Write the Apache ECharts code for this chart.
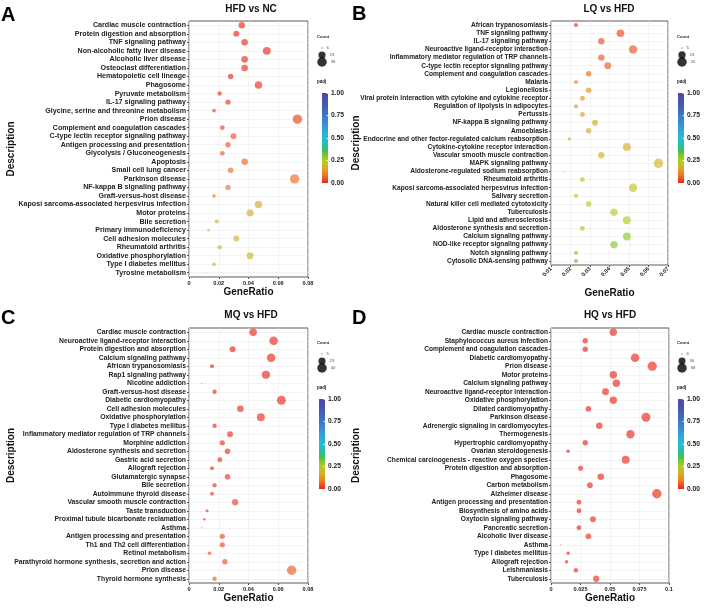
<!DOCTYPE html>
<html>
<head>
<meta charset="utf-8">
<script src="https://cdn.jsdelivr.net/npm/echarts@6/dist/echarts.min.js"></script>
<style>
  html, body { margin: 0; padding: 0; background: #fff; }
  #chart { width: 709px; height: 608px; }
</style>
</head>
<body>
<div id="chart"></div>
<script>
"use strict";

/* ---------- data ---------- */
const termsA = ["Cardiac muscle contraction", "Protein digestion and absorption", "TNF signaling pathway",
  "Non-alcoholic fatty liver disease", "Alcoholic liver disease", "Osteoclast differentiation",
  "Hematopoietic cell lineage", "Phagosome", "Pyruvate metabolism", "IL-17 signaling pathway",
  "Glycine, serine and threonine metabolism", "Prion disease", "Complement and coagulation cascades",
  "C-type lectin receptor signaling pathway", "Antigen processing and presentation",
  "Glycolysis / Gluconeogenesis", "Apoptosis", "Small cell lung cancer", "Parkinson disease",
  "NF-kappa B signaling pathway", "Graft-versus-host disease",
  "Kaposi sarcoma-associated herpesvirus infection", "Motor proteins", "Bile secretion",
  "Primary immunodeficiency", "Cell adhesion molecules", "Rheumatoid arthritis",
  "Oxidative phosphorylation", "Type I diabetes mellitus", "Tyrosine metabolism"];
const ratioA = [0.0355, 0.0318, 0.0374, 0.0523, 0.0374, 0.0374, 0.0280, 0.0467, 0.0206, 0.0262,
  0.0168, 0.0729, 0.0224, 0.0299, 0.0262, 0.0224, 0.0374, 0.0280, 0.0710, 0.0262,
  0.0168, 0.0467, 0.0411, 0.0187, 0.0131, 0.0318, 0.0206, 0.0411, 0.0168, 0.0112];
const countA = [19, 17, 20, 28, 20, 20, 15, 25, 11, 14, 9, 39, 12, 16, 14, 12, 20, 15, 38, 14,
  9, 25, 22, 10, 7, 17, 11, 22, 9, 6];
const padjA = [0.002, 0.003, 0.004, 0.005, 0.006, 0.008, 0.012, 0.015, 0.018, 0.02, 0.025, 0.03,
  0.04, 0.045, 0.05, 0.055, 0.07, 0.075, 0.08, 0.09, 0.11, 0.17, 0.175, 0.18, 0.185, 0.19,
  0.19, 0.195, 0.2, 0.2];
const breaksA = [6, 23, 39];

const termsB = ["African trypanosomiasis", "TNF signaling pathway", "IL-17 signaling pathway",
  "Neuroactive ligand-receptor interaction", "Inflammatory mediator regulation of TRP channels",
  "C-type lectin receptor signaling pathway", "Complement and coagulation cascades", "Malaria",
  "Legionellosis", "Viral protein interaction with cytokine and cytokine receptor",
  "Regulation of lipolysis in adipocytes", "Pertussis", "NF-kappa B signaling pathway", "Amoebiasis",
  "Endocrine and other factor-regulated calcium reabsorption", "Cytokine-cytokine receptor interaction",
  "Vascular smooth muscle contraction", "MAPK signaling pathway",
  "Aldosterone-regulated sodium reabsorption", "Rheumatoid arthritis",
  "Kaposi sarcoma-associated herpesvirus infection", "Salivary secretion",
  "Natural killer cell mediated cytotoxicity", "Tuberculosis", "Lipid and atherosclerosis",
  "Aldosterone synthesis and secretion", "Calcium signaling pathway",
  "NOD-like receptor signaling pathway", "Notch signaling pathway", "Cytosolic DNA-sensing pathway"];
const ratioB = [0.0228, 0.0456, 0.0358, 0.0521, 0.0358, 0.0391, 0.0293, 0.0228, 0.0293, 0.0261,
  0.0228, 0.0261, 0.0326, 0.0293, 0.0195, 0.0489, 0.0358, 0.0651, 0.0163, 0.0261,
  0.0521, 0.0228, 0.0293, 0.0423, 0.0489, 0.0261, 0.0489, 0.0423, 0.0228, 0.0228];
const countB = [7, 14, 11, 16, 11, 12, 9, 7, 9, 8, 7, 8, 10, 9, 6, 15, 11, 20, 5, 8,
  16, 7, 9, 13, 15, 8, 15, 13, 7, 7];
const padjB = [0.02, 0.03, 0.045, 0.05, 0.055, 0.06, 0.07, 0.11, 0.12, 0.13, 0.135, 0.14, 0.16,
  0.165, 0.17, 0.175, 0.18, 0.185, 0.19, 0.2, 0.22, 0.225, 0.23, 0.245, 0.255, 0.265, 0.29,
  0.3, 0.31, 0.32];
const breaksB = [5, 13, 20];

const termsC = ["Cardiac muscle contraction", "Neuroactive ligand-receptor interaction",
  "Protein digestion and absorption", "Calcium signaling pathway", "African trypanosomiasis",
  "Rap1 signaling pathway", "Nicotine addiction", "Graft-versus-host disease",
  "Diabetic cardiomyopathy", "Cell adhesion molecules", "Oxidative phosphorylation",
  "Type I diabetes mellitus", "Inflammatory mediator regulation of TRP channels", "Morphine addiction",
  "Aldosterone synthesis and secretion", "Gastric acid secretion", "Allograft rejection",
  "Glutamatergic synapse", "Bile secretion", "Autoimmune thyroid disease",
  "Vascular smooth muscle contraction", "Taste transduction", "Proximal tubule bicarbonate reclamation",
  "Asthma", "Antigen processing and presentation", "Th1 and Th2 cell differentiation",
  "Retinol metabolism", "Parathyroid hormone synthesis, secretion and action", "Prion disease",
  "Thyroid hormone synthesis"];
const ratioC = [0.0431, 0.0569, 0.0293, 0.0552, 0.0155, 0.0517, 0.0086, 0.0172, 0.0621, 0.0345,
  0.0483, 0.0172, 0.0276, 0.0224, 0.0259, 0.0207, 0.0155, 0.0259, 0.0172, 0.0155,
  0.0310, 0.0121, 0.0103, 0.0086, 0.0224, 0.0224, 0.0138, 0.0241, 0.0690, 0.0172];
const countC = [25, 33, 17, 32, 9, 30, 5, 10, 36, 20, 28, 10, 16, 13, 15, 12, 9, 15, 10, 9,
  18, 7, 6, 5, 13, 13, 8, 14, 40, 10];
const padjC = [0.001, 0.001, 0.002, 0.002, 0.003, 0.003, 0.004, 0.005, 0.005, 0.006, 0.007, 0.008,
  0.01, 0.012, 0.013, 0.015, 0.017, 0.02, 0.022, 0.024, 0.025, 0.03, 0.032, 0.035, 0.04,
  0.042, 0.045, 0.048, 0.06, 0.065];
const breaksC = [5, 23, 40];

const termsD = ["Cardiac muscle contraction", "Staphylococcus aureus infection",
  "Complement and coagulation cascades", "Diabetic cardiomyopathy", "Prion disease", "Motor proteins",
  "Calcium signaling pathway", "Neuroactive ligand-receptor interaction", "Oxidative phosphorylation",
  "Dilated cardiomyopathy", "Parkinson disease", "Adrenergic signaling in cardiomyocytes",
  "Thermogenesis", "Hypertrophic cardiomyopathy", "Ovarian steroidogenesis",
  "Chemical carcinogenesis - reactive oxygen species", "Protein digestion and absorption", "Phagosome",
  "Carbon metabolism", "Alzheimer disease", "Antigen processing and presentation",
  "Biosynthesis of amino acids", "Oxytocin signaling pathway", "Pancreatic secretion",
  "Alcoholic liver disease", "Asthma", "Type I diabetes mellitus", "Allograft rejection",
  "Leishmaniasis", "Tuberculosis"];
const ratioD = [0.0528, 0.0290, 0.0290, 0.0712, 0.0858, 0.0528, 0.0554, 0.0462, 0.0528, 0.0317,
  0.0805, 0.0409, 0.0673, 0.0290, 0.0145, 0.0633, 0.0251, 0.0422, 0.0330, 0.0897,
  0.0237, 0.0237, 0.0356, 0.0237, 0.0317, 0.0079, 0.0145, 0.0132, 0.0211, 0.0383];
const countD = [40, 22, 22, 54, 65, 40, 42, 35, 40, 24, 61, 31, 51, 22, 11, 48, 19, 32, 25, 68,
  18, 18, 27, 18, 24, 6, 11, 10, 16, 29];
const padjD = [0.0001, 0.0002, 0.0003, 0.0004, 0.0005, 0.0006, 0.0008, 0.001, 0.0012, 0.0015,
  0.0018, 0.002, 0.0023, 0.0026, 0.003, 0.0033, 0.0036, 0.004, 0.0045, 0.005, 0.0055,
  0.006, 0.0065, 0.007, 0.0075, 0.008, 0.0085, 0.009, 0.0095, 0.01];
const breaksD = [6, 36, 68];

// padj colour ramp, evenly spaced from 0 to 1
const padjColors = ["#e8261a", "#ec5222", "#f07e28", "#e0a028", "#c8bc24", "#b4cc22", "#86c82a",
  "#4cc048", "#2cbf88", "#26c0b8", "#24bcd4", "#2ab0dc", "#30a2dc", "#3494d6", "#3886ce",
  "#3c78c6", "#406abe", "#445eb6", "#4854b0", "#4c4eac", "#5048a8"];

/* ---------- panel layout ---------- */
const FONT = "'Liberation Sans', Arial, sans-serif";
const panels = [
  {letter: "A", title: "HFD vs NC", terms: termsA, ratio: ratioA, count: countA, padj: padjA, breaks: breaksA,
   grid: {left: 189, top: 21, width: 119, height: 256}, x: [0, 0.08, 0.02], rotate: 0, labelSize: 7.1,
   xGap: 10, yGap: 173, titleAt: [251, 9], letterAt: [1, 15], legendX: 318, barX: 322, legendY: 37},
  {letter: "B", title: "LQ vs HFD", terms: termsB, ratio: ratioB, count: countB, padj: padjB, breaks: breaksB,
   grid: {left: 551, top: 21, width: 117, height: 244}, x: [0.01, 0.07, 0.01], rotate: 45, labelSize: 6.6,
   xGap: 23, yGap: 190, titleAt: [609, 9], letterAt: [352, 14], legendX: 678, barX: 678, legendY: 37},
  {letter: "C", title: "MQ vs HFD", terms: termsC, ratio: ratioC, count: countC, padj: padjC, breaks: breaksC,
   grid: {left: 189, top: 328, width: 119, height: 255}, x: [0, 0.08, 0.02], rotate: 0, labelSize: 6.8,
   xGap: 10, yGap: 173, titleAt: [251, 315], letterAt: [1, 318], legendX: 318, barX: 319, legendY: 343},
  {letter: "D", title: "HQ vs HFD", terms: termsD, ratio: ratioD, count: countD, padj: padjD, breaks: breaksD,
   grid: {left: 551, top: 328, width: 118, height: 255}, x: [0, 0.1, 0.025], rotate: 0, labelSize: 6.6,
   xGap: 10, yGap: 190, titleAt: [610, 315], letterAt: [352, 318], legendX: 678, barX: 678, legendY: 343},
];

// ggplot-like area scale: diameter grows with sqrt of count
const sizer = (breaks) => (c) => {
  const lo = breaks[0], hi = breaks[breaks.length - 1];
  return 1.2 + 8.3 * Math.sqrt(Math.max(c - lo, 0) / (hi - lo));
};
const tickFmt = (v) => String(+v.toFixed(3));
const gradient = () => new echarts.graphic.LinearGradient(0, 1, 0, 0,
  padjColors.map((c, i) => ({offset: i / (padjColors.length - 1), color: c})));

const grid = [], xAxis = [], yAxis = [], series = [], graphic = [], bubbleIdx = [];
panels.forEach((p) => {
  const size = sizer(p.breaks);

  /* main plot */
  let gi = grid.length;
  grid.push(Object.assign({show: true, borderColor: "#5a5a5a", borderWidth: 1, backgroundColor: "#fff",
    containLabel: false, outerBoundsMode: "none"}, p.grid));
  xAxis.push({
    gridIndex: gi, type: "value", min: p.x[0], max: p.x[1], interval: p.x[2],
    axisLine: {show: false},
    axisTick: {show: true, length: 2, lineStyle: {color: "#555"}},
    axisLabel: {fontFamily: FONT, fontSize: 5.6, fontWeight: "bold", color: "#222", margin: 3,
      rotate: p.rotate, formatter: tickFmt},
    splitLine: {show: true, lineStyle: {color: "#ebebeb", width: 0.6}},
    name: "GeneRatio", nameLocation: "middle", nameGap: p.xGap, nameMoveOverlap: false,
    nameTextStyle: {fontFamily: FONT, fontSize: 10, fontWeight: "bold", color: "#111"},
  });
  yAxis.push({
    gridIndex: gi, type: "category", data: p.terms, inverse: true,
    axisLine: {show: false},
    axisTick: {show: true, length: 2, alignWithLabel: true, lineStyle: {color: "#555"}},
    axisLabel: {interval: 0, fontFamily: FONT, fontSize: p.labelSize, fontWeight: "bold", color: "#222", margin: 3},
    splitLine: {show: true, alignWithLabel: true, lineStyle: {color: "#ebebeb", width: 0.6}},
    name: "Description", nameLocation: "middle", nameGap: p.yGap, nameMoveOverlap: false,
    nameTextStyle: {fontFamily: FONT, fontSize: 10, fontWeight: "bold", color: "#111"},
  });
  bubbleIdx.push(series.length);
  series.push({
    type: "scatter", xAxisIndex: gi, yAxisIndex: gi,
    data: p.terms.map((t, i) => [p.ratio[i], t, p.padj[i], p.count[i]]),
    symbolSize: (v) => size(v[3]),
    itemStyle: {opacity: 0.65},
  });

  /* size legend */
  gi = grid.length;
  grid.push({left: p.legendX - 1, top: p.legendY + 7.5, width: 10, height: 21,
    containLabel: false, outerBoundsMode: "none"});
  xAxis.push({gridIndex: gi, type: "category", data: ["k"], show: false});
  yAxis.push({gridIndex: gi, type: "category", data: p.breaks.map(String), inverse: true, show: false});
  series.push({
    type: "scatter", xAxisIndex: gi, yAxisIndex: gi, silent: true,
    data: p.breaks.map((b) => ["k", String(b), b]),
    symbolSize: (v) => size(v[2]),
    itemStyle: {color: "#000"},
    label: {show: true, position: "right", distance: 4, formatter: (d) => d.value[2],
      fontFamily: FONT, fontSize: 4.2, color: "#222"},
  });

  /* padj colour bar */
  gi = grid.length;
  const cbTop = p.legendY + 56;
  grid.push({left: p.barX, top: cbTop, width: 6, height: 90, containLabel: false, outerBoundsMode: "none"});
  xAxis.push({gridIndex: gi, type: "category", data: ["padj"], show: false});
  yAxis.push({
    gridIndex: gi, type: "value", min: 0, max: 1, interval: 0.25, position: "right", z: 5,
    axisLine: {show: false},
    axisTick: {show: true, inside: true, length: 1.5, lineStyle: {color: "#fff", width: 0.8}},
    splitLine: {show: false},
    axisLabel: {fontFamily: FONT, fontSize: 6.7, fontWeight: "bold", color: "#222", margin: 3,
      formatter: (v) => v.toFixed(2)},
  });
  series.push({
    type: "bar", xAxisIndex: gi, yAxisIndex: gi, silent: true, barWidth: "100%",
    data: [1], itemStyle: {color: gradient()},
  });

  /* texts */
  graphic.push(
    {type: "text", left: p.letterAt[0], top: p.letterAt[1] - 10,
     style: {text: p.letter, fontFamily: FONT, fontSize: 20, fontWeight: "bold", fill: "#000"}},
    {type: "text", x: p.titleAt[0], y: p.titleAt[1],
     style: {text: p.title, fontFamily: FONT, fontSize: 10, fontWeight: "bold", fill: "#111",
       textAlign: "center", textVerticalAlign: "middle"}},
    {type: "text", x: p.legendX - 1, y: p.legendY,
     style: {text: "Count", fontFamily: FONT, fontSize: 4.2, fontWeight: "bold", fill: "#222",
       textVerticalAlign: "middle"}},
    {type: "text", x: p.legendX - 1, y: p.legendY + 45,
     style: {text: "padj", fontFamily: FONT, fontSize: 4.5, fontWeight: "bold", fill: "#222",
       textVerticalAlign: "middle"}}
  );
});

const chart = echarts.init(document.getElementById("chart"), null, {renderer: "canvas"});
chart.setOption({
  animation: false,
  backgroundColor: "#fff",
  textStyle: {fontFamily: FONT},
  grid, xAxis, yAxis, series, graphic,
  visualMap: [{
    type: "continuous", show: false, min: 0, max: 1, dimension: 2,
    seriesIndex: bubbleIdx, inRange: {color: padjColors},
  }],
});
</script>
</body>
</html>
